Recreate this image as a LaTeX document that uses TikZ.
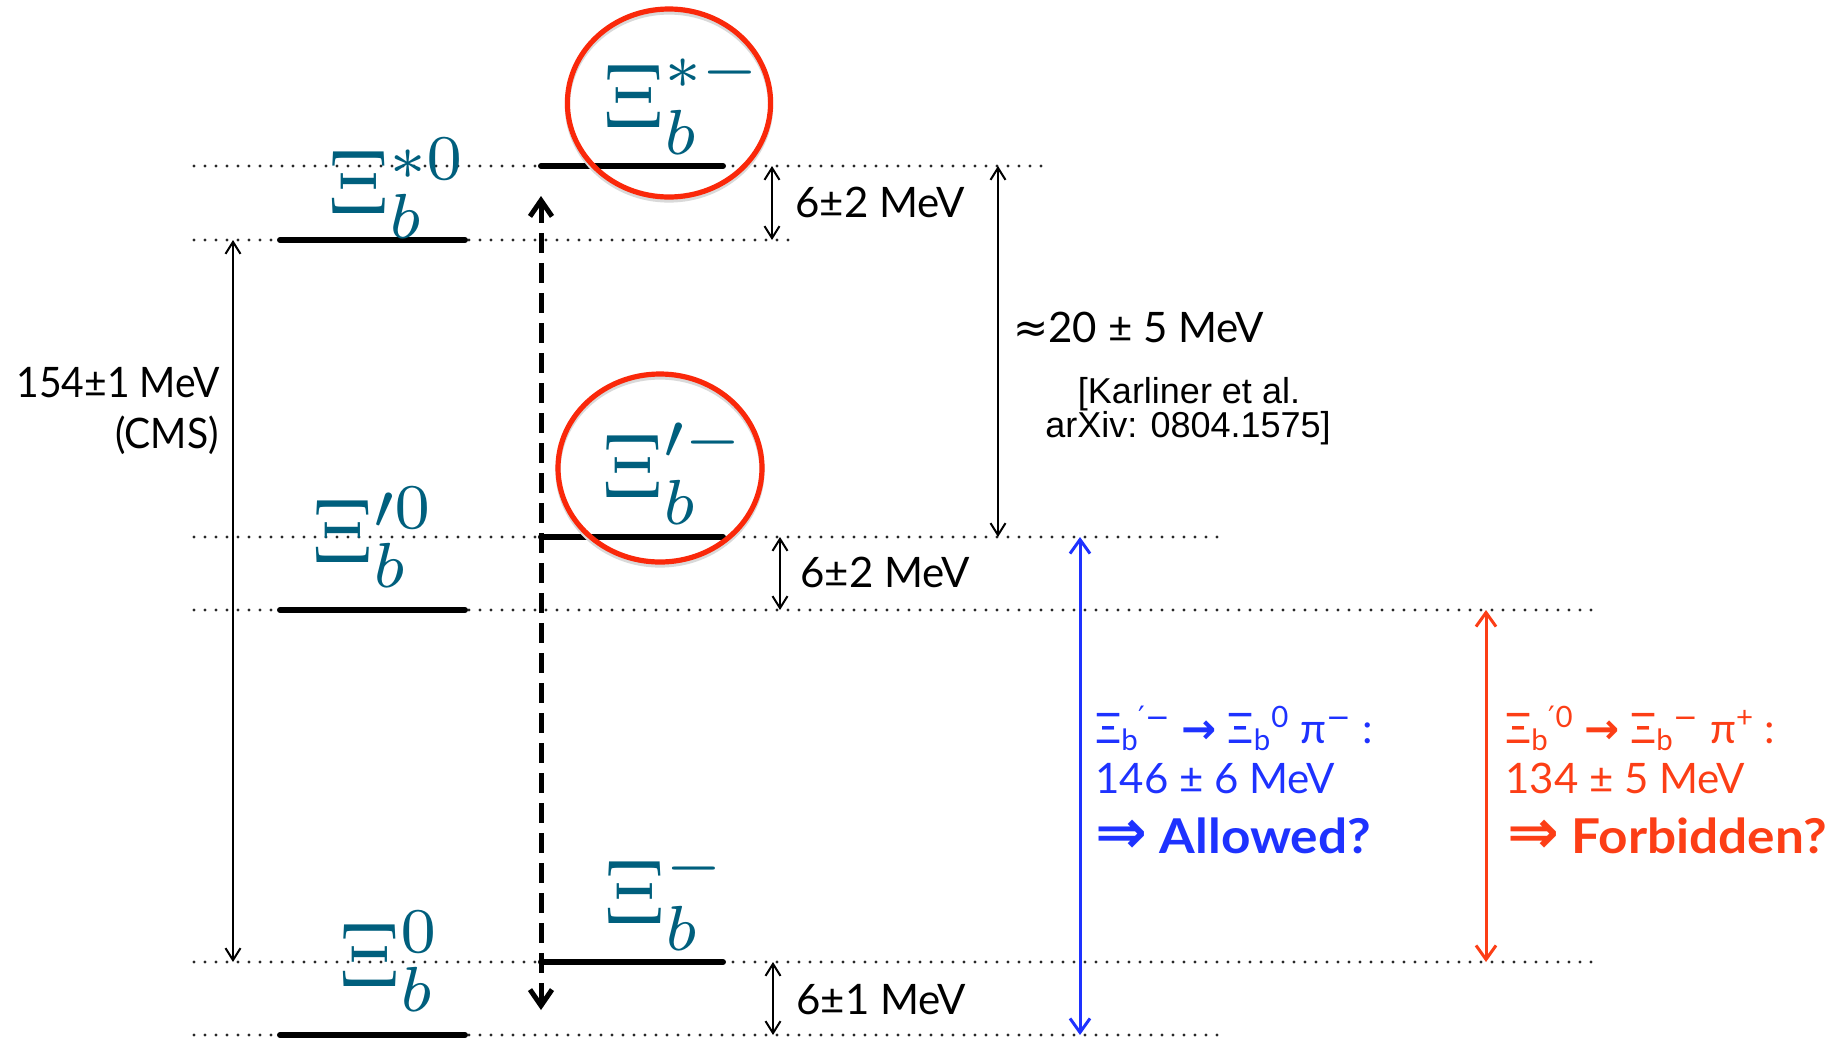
\documentclass[tikz,border=0pt]{standalone}
\usepackage[no-math]{fontspec}
\setmainfont{Lato}
\newfontfamily\narrowfont{Lato}[FakeStretch=0.93]
\newfontfamily\widefont{Lato}[FakeStretch=1.07]
\newfontfamily\reffont{Liberation Sans}
\newfontfamily\symfont{DejaVu Sans}
\usetikzlibrary{arrows.meta}

\definecolor{levteal}{RGB}{0,95,125}
\definecolor{ringred}{RGB}{250,40,10}
\definecolor{decblue}{RGB}{30,50,255}
\definecolor{decred}{RGB}{252,62,22}
\definecolor{dotgray}{RGB}{40,40,40}

\tikzset{
  guide/.style={dotgray, line width=1.7pt, line cap=round, dash pattern=on 0pt off 5.5pt},
  levelbar/.style={line width=3pt, line cap=round},
  gaparrow/.style={line width=1pt,
    {Straight Barb[length=6pt,width=7.5pt]}-{Straight Barb[length=6pt,width=7.5pt]}},
  decarrow/.style={line width=1.5pt,
    {Straight Barb[length=7pt,width=10pt]}-{Straight Barb[length=7pt,width=10pt]}},
  transarrow/.style={line width=2.5pt, dash pattern=on 10pt off 5pt,
    {Straight Barb[length=8pt,width=11pt]}-{Straight Barb[length=8pt,width=11pt]}},
  ring/.style={ringred, line width=2.6pt},
  ringshade/.style={black!15, line width=2.6pt},
  baryon/.style={inner sep=0pt, anchor=base west, text=levteal,
    font=\fontsize{10}{12}\selectfont, scale=4.55, transform shape},
  mev/.style={inner sep=0pt, anchor=base west, font=\fontsize{21}{25}\selectfont},
  refnote/.style={inner sep=0pt, anchor=base, font=\reffont\fontsize{18}{20}\selectfont},
  decline/.style={inner sep=0pt, anchor=base west, font=\fontsize{21}{25}\selectfont},
  verdict/.style={inner sep=0pt, anchor=base west, font=\widefont\bfseries\fontsize{24}{28}\selectfont},
}

\begin{document}
\begin{tikzpicture}[x=0.5pt,y=-0.5pt]
\useasboundingbox (0,0) rectangle (1845,1039);

% energy levels: dotted guide lines
\coordinate (g1a) at (194,166);  \coordinate (g1b) at (1042,166);
\coordinate (g2a) at (194,240);  \coordinate (g2b) at (788,240);
\coordinate (g3a) at (194,537);  \coordinate (g3b) at (1221,537);
\coordinate (g4a) at (194,610);  \coordinate (g4b) at (1597,610);
\coordinate (g5a) at (194,962);  \coordinate (g5b) at (1597,962);
\coordinate (g6a) at (194,1035); \coordinate (g6b) at (1221,1035);
\foreach \k in {1,...,6} {\draw[guide] (g\k a) -- (g\k b);}

% level bars: neutral states (left), charged states (right)
\coordinate (n1a) at (280,240);  \coordinate (n1b) at (465,240);
\coordinate (n2a) at (280,610);  \coordinate (n2b) at (465,610);
\coordinate (n3a) at (280,1035); \coordinate (n3b) at (465,1035);
\coordinate (c1a) at (541,166);  \coordinate (c1b) at (723,166);
\coordinate (c2a) at (541,537);  \coordinate (c2b) at (723,537);
\coordinate (c3a) at (541,962);  \coordinate (c3b) at (723,962);
\foreach \s in {n1,n2,n3,c1,c2,c3} {\draw[levelbar] (\s a) -- (\s b);}

% vertical dashed transition arrow
\coordinate (ttop) at (541,196);
\coordinate (tbot) at (541,1010);
\draw[transarrow] (ttop) -- (tbot);

% splittings
\coordinate (cmsT) at (233,240); \coordinate (cmsB) at (233,962);
\draw[gaparrow] (cmsT) -- (cmsB);
\coordinate (s1T) at (772,166); \coordinate (s1B) at (772,240);
\draw[gaparrow] (s1T) -- (s1B);
\coordinate (s2T) at (780,537); \coordinate (s2B) at (780,610);
\draw[gaparrow] (s2T) -- (s2B);
\coordinate (s3T) at (773,962); \coordinate (s3B) at (773,1035);
\draw[gaparrow] (s3T) -- (s3B);
\coordinate (kT) at (998,166); \coordinate (kB) at (998,537);
\draw[gaparrow] (kT) -- (kB);

% decay thresholds
\coordinate (bT) at (1080,537); \coordinate (bB) at (1080,1035);
\draw[decarrow, decblue] (bT) -- (bB);
\coordinate (rT) at (1486,610); \coordinate (rB) at (1486,962);
\draw[decarrow, decred] (rT) -- (rB);

% highlight rings
\draw[ringshade] (669,106) ellipse [x radius=50.8pt, y radius=47pt];
\draw[ring] (669,103) ellipse [x radius=50.8pt, y radius=47pt];
\draw[ringshade] (660,471) ellipse [x radius=51pt, y radius=47pt];
\draw[ring] (660,468) ellipse [x radius=51pt, y radius=47pt];

% state labels
\node[baryon] (xs0) at (327,213) {$\Xi_b^{*0}$};
\node[baryon] (xsm) at (602,127) {$\Xi_b^{*-}$};
\node[baryon] (xp0) at (311,562) {$\Xi_b^{\prime 0}$};
\node[baryon] (xpm) at (601,497) {$\Xi_b^{\prime -}$};
\node[baryon] (x0)  at (338,986) {$\Xi_b^{0}$};
\node[baryon] (xm)  at (603,923) {$\Xi_b^{-}$};

% splitting values
\node[mev] (t1) at (795,217) {6±2 MeV};
\node[mev] (t2) at (800,587) {6±2 MeV};
\node[mev] (t3) at (796,1014) {6±1 MeV};
\node[mev] (t4) at (1013,342) {{\symfont ≈}20 ± 5 MeV};
\node[mev, anchor=base east, font=\narrowfont\fontsize{21}{25}\selectfont] (c1) at (220,397) {154±1 MeV};
\node[mev, anchor=base east, font=\narrowfont\fontsize{21}{25}\selectfont] (c2) at (219,448) {(CMS)};
\node[refnote] (r1) at (1189,403) {[Karliner et al.};
\node[refnote] (r2) at (1188,437) {arXiv: 0804.1575]};

% decay channels
\node[decline, text=decblue] (b1) at (1095,743)
  {Ξ\textsubscript{b}\textsuperscript{{\symfont ′−}} {\symfont\bfseries →} Ξ\textsubscript{b}\textsuperscript{0} π\textsuperscript{{\symfont −}} :};
\node[decline, text=decblue] (b2) at (1095,793) {146 ± 6 MeV};
\node[verdict, text=decblue] (b3) at (1095,853) {{\symfont\fontsize{31}{32}\selectfont ⇒} Allowed?};

\node[decline, text=decred] (d1) at (1505,743)
  {Ξ\textsubscript{b}\textsuperscript{{\symfont ′}0} {\symfont\bfseries →} Ξ\textsubscript{b}\textsuperscript{{\symfont −}} π\textsuperscript{+} :};
\node[decline, text=decred] (d2) at (1505,793) {134 ± 5 MeV};
\node[verdict, text=decred] (d3) at (1507,853) {{\symfont\fontsize{31}{32}\selectfont ⇒} Forbidden?};
\end{tikzpicture}
\end{document}
